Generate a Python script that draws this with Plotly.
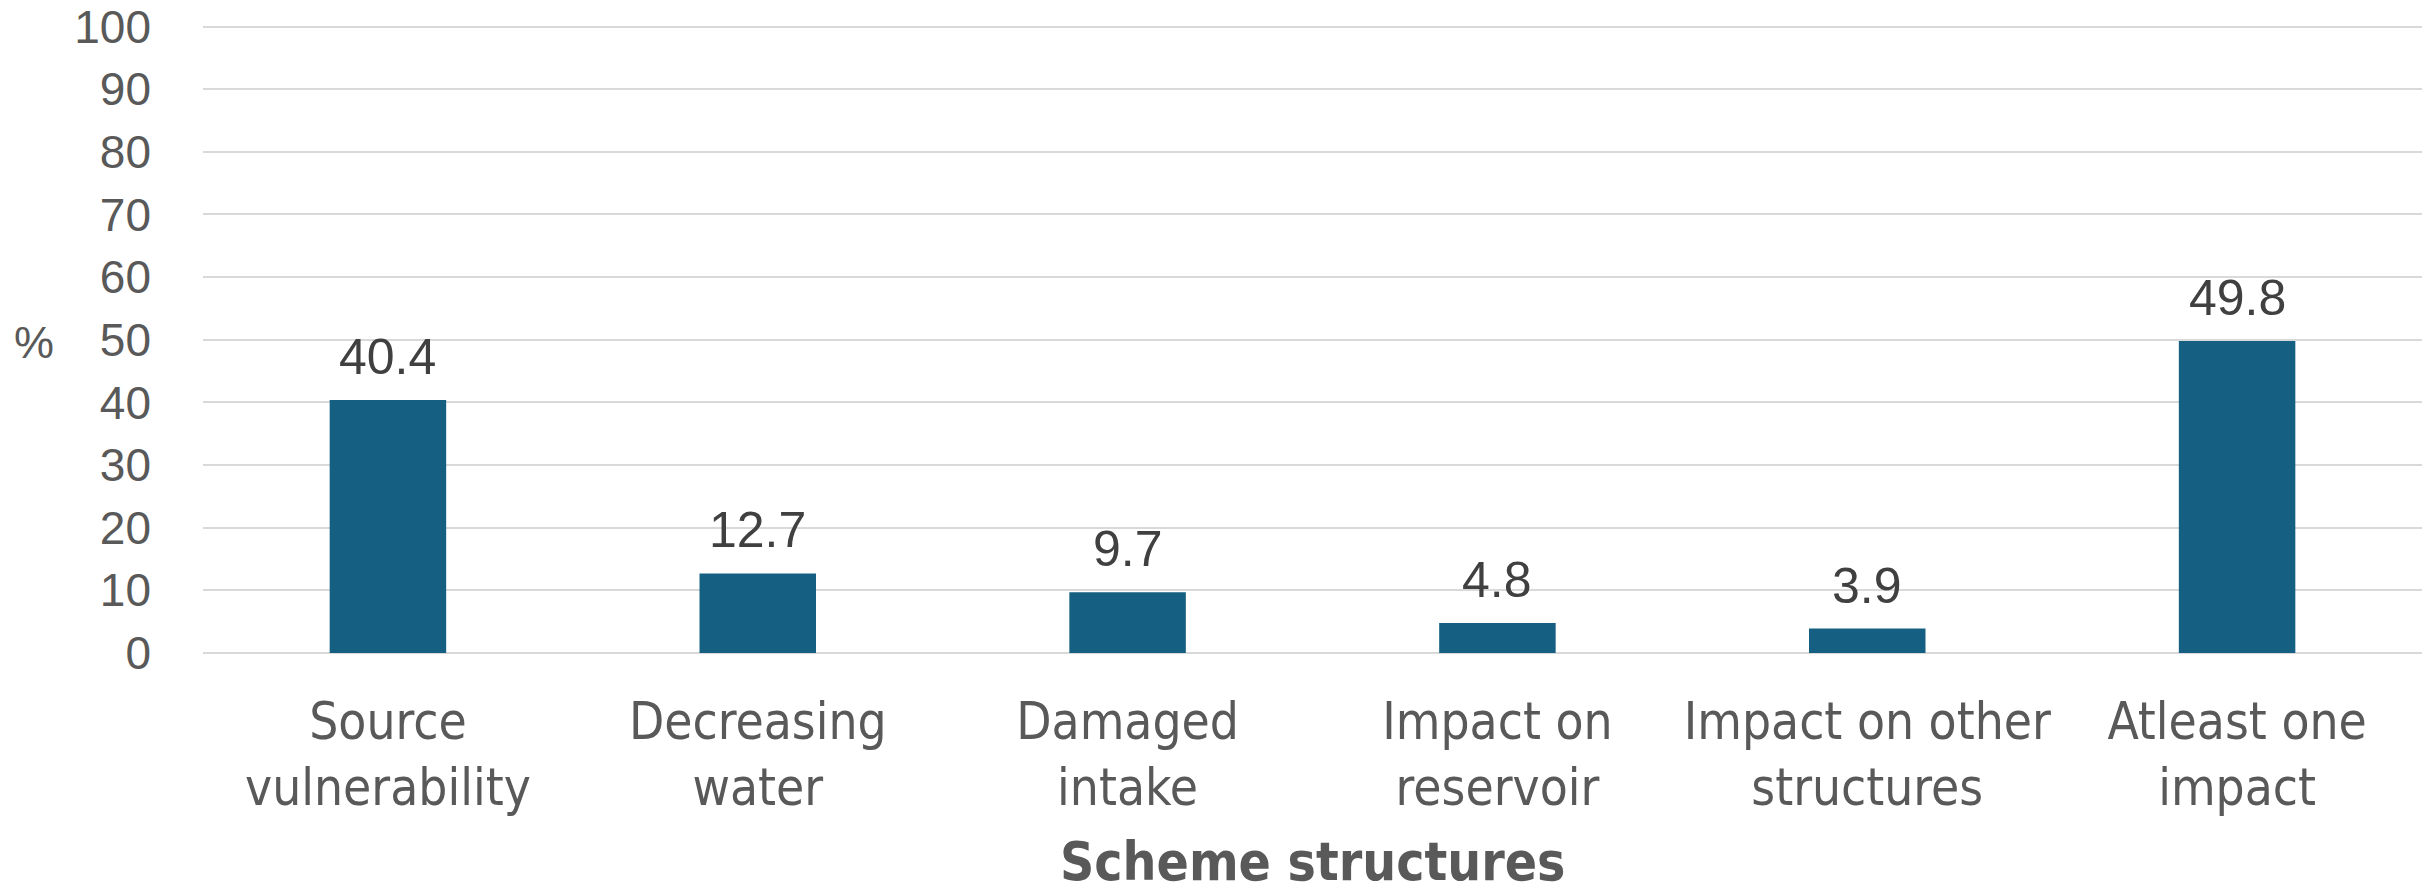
import plotly.graph_objects as go

categories = ["Source<br>vulnerability", "Decreasing<br>water", "Damaged<br>intake",
              "Impact on<br>reservoir", "Impact on other<br>structures", "Atleast one<br>impact"]
values = [40.4, 12.7, 9.7, 4.8, 3.9, 49.8]
y_ticks = [0, 10, 20, 30, 40, 50, 60, 70, 80, 90, 100]

BAR = "#156082"
W, H = 2433, 886
L, R, T, B = 203, 11, 24, 233
PW, PH = W - L - R, H - T - B


def px_x(page_x):
    return (page_x - L) / PW


def px_y(page_y):
    return (H - B - page_y) / PH


fig = go.Figure()
fig.add_trace(go.Bar(
    x=categories, y=values, marker=dict(color=BAR, line=dict(width=0)),
    width=0.315, hoverinfo="skip", showlegend=False,
))

for c, v in zip(categories, values):
    fig.add_annotation(x=c, y=v, text=f"{v:.1f}", showarrow=False,
                       xref="x", yref="y", yanchor="bottom", yshift=13,
                       font=dict(family="Liberation Sans, Arial, sans-serif", size=50, color="#404040"))

fig.add_annotation(text="%", xref="paper", yref="paper",
                   x=px_x(34), y=px_y(342),
                   xanchor="center", yanchor="middle", showarrow=False,
                   font=dict(family="Liberation Sans, Arial, sans-serif", size=45, color="#595959"))

fig.add_annotation(text="<b>Scheme structures</b>", xref="paper", yref="paper",
                   x=px_x(1312), y=px_y(861),
                   xanchor="center", yanchor="middle", showarrow=False,
                   font=dict(family="Liberation Sans Narrow, DejaVu Sans Condensed, sans-serif",
                             size=53, color="#595959"))

fig.update_layout(
    width=W, height=H,
    margin=dict(l=L, r=R, t=T, b=B, pad=0),
    paper_bgcolor="white", plot_bgcolor="white",
    xaxis=dict(showgrid=False, showline=False, zeroline=False, ticks="", automargin=False,
               ticklabelstandoff=34,
               tickfont=dict(family="Liberation Sans Narrow, DejaVu Sans Condensed, sans-serif",
                             size=51, color="#595959"),
               fixedrange=True),
    yaxis=dict(range=[0, 100.4], tickvals=y_ticks, showgrid=True, gridcolor="#D9D9D9",
               gridwidth=2, zeroline=True, zerolinecolor="#D9D9D9", zerolinewidth=2,
               showline=False, ticks="", ticklabelstandoff=51, automargin=False,
               ticklabeloverflow="allow",
               tickfont=dict(family="Liberation Sans, Arial, sans-serif", size=46, color="#595959"),
               fixedrange=True),
)

fig.write_html("out.html", config={"displayModeBar": False},
               post_script="document.body.style.margin='0';document.body.style.overflow='hidden';")
